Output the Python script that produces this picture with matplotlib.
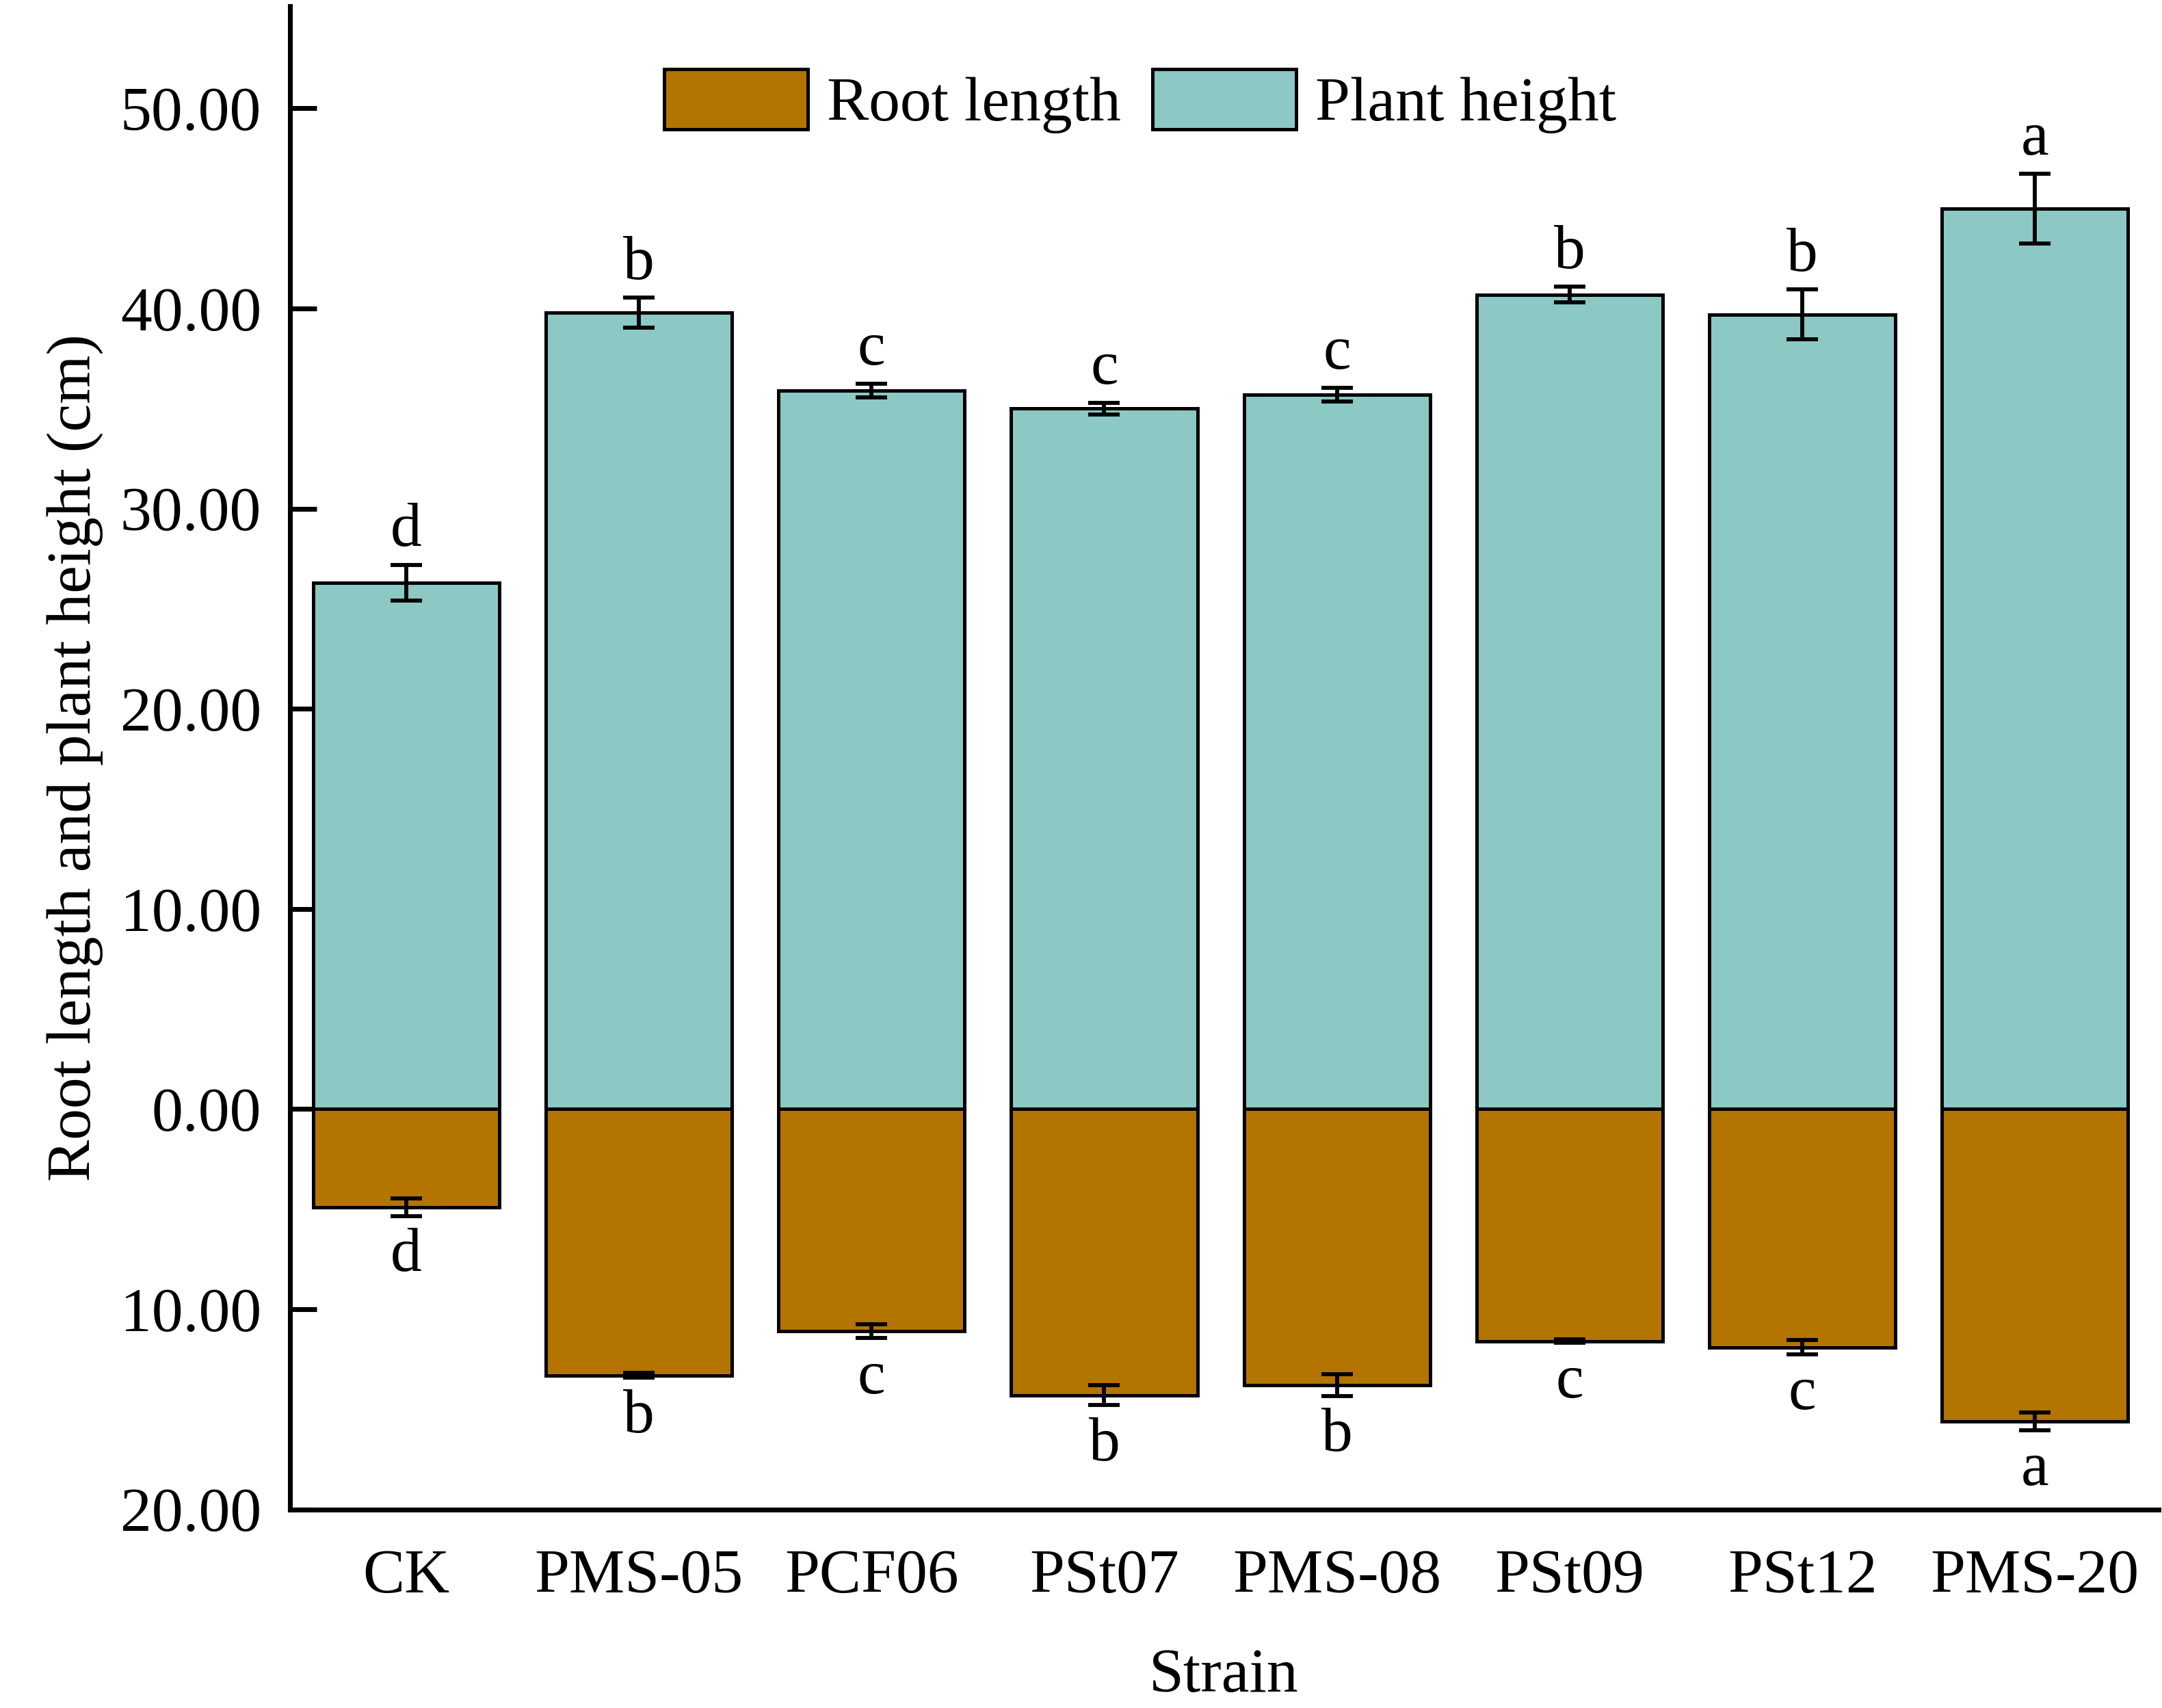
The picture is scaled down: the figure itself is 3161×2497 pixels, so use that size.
import matplotlib
matplotlib.use("Agg")
import matplotlib.pyplot as plt
from matplotlib.ticker import FuncFormatter, FixedLocator
import numpy as np

strains = ["CK", "PMS-05", "PCF06", "PSt07", "PMS-08", "PSt09", "PSt12", "PMS-20"]
plant_height = [26.3, 39.8, 35.9, 35.0, 35.7, 40.7, 39.7, 45.0]
plant_err = [0.9, 0.75, 0.35, 0.3, 0.35, 0.4, 1.25, 1.75]
plant_letters = ["d", "b", "c", "c", "c", "b", "b", "a"]
root_length = [4.9, 13.3, 11.1, 14.3, 13.8, 11.6, 11.9, 15.6]
root_err = [0.45, 0.12, 0.35, 0.5, 0.55, 0.08, 0.35, 0.45]
root_letters = ["d", "b", "c", "b", "b", "c", "c", "a"]
yticks = [-20, -10, 0, 10, 20, 30, 40, 50]

plt.rcParams["font.family"] = ["Liberation Serif", "DejaVu Serif"]
plt.rcParams["font.size"] = 22

brown = "#B37400"
teal = "#8CC8C4"

fig = plt.figure(figsize=(3162 / 300, 2497 / 300), dpi=300)
ax = fig.add_axes([0.134, 0.1163, 0.864, 0.880])

x = np.arange(len(strains))
neg_root = [-v for v in root_length]

ax.bar(x, plant_height, width=0.8, color=teal, edgecolor="black", linewidth=1.2,
       label="Plant height", zorder=2)
ax.bar(x, neg_root, width=0.8, color=brown, edgecolor="black", linewidth=1.2,
       label="Root length", zorder=2)
ax.errorbar(x, plant_height, yerr=plant_err, fmt="none", ecolor="black",
            elinewidth=1.4, capsize=5.5, capthick=1.4, zorder=3)
ax.errorbar(x, neg_root, yerr=root_err, fmt="none", ecolor="black",
            elinewidth=1.4, capsize=5.5, capthick=1.4, zorder=3)

for xi, h, e, lt in zip(x, plant_height, plant_err, plant_letters):
    ax.annotate(lt, (xi, h + e), xytext=(0, 2), textcoords="offset points",
                ha="center", va="bottom", fontsize=22)
for xi, r, e, lt in zip(x, neg_root, root_err, root_letters):
    ax.annotate(lt, (xi, r - e), xytext=(0, -4), textcoords="offset points",
                ha="center", va="top", fontsize=22)

ax.set_xlim(-0.5, 7.53)
ax.set_ylim(-20, 55.1)
ax.yaxis.set_major_locator(FixedLocator(yticks))
ax.yaxis.set_major_formatter(FuncFormatter(lambda v, p: f"{abs(v):.2f}"))
ax.set_xticks(x)
ax.set_xticklabels(strains)

for s in ["top", "right"]:
    ax.spines[s].set_visible(False)
for s in ["left", "bottom"]:
    ax.spines[s].set_linewidth(1.7)

ax.tick_params(axis="y", direction="in", length=9.3, width=1.7, pad=10, labelsize=22)
ax.tick_params(axis="x", length=0, pad=14, labelsize=22)

ax.set_xlabel("Strain", fontsize=22, labelpad=15)
ax.set_ylabel("Root length and plant height (cm)", fontsize=22, labelpad=6)

handles, labels = ax.get_legend_handles_labels()
order = [1, 0]
leg = ax.legend([handles[i] for i in order], [labels[i] for i in order],
                loc="upper center", bbox_to_anchor=(0.455, 0.975), ncol=2,
                frameon=False, handlelength=2.3, handleheight=1.1,
                handletextpad=0.3, columnspacing=0.5, fontsize=22,
                borderaxespad=0.0)

fig.savefig("out.png", dpi=300)
